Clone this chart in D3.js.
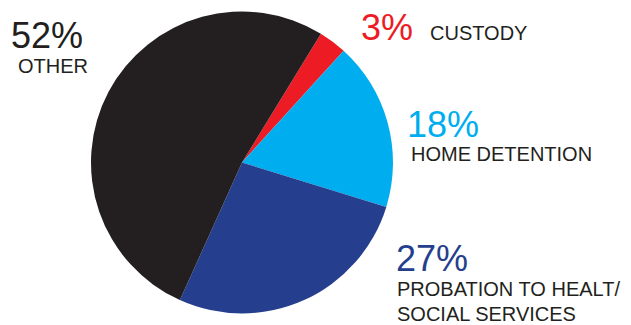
<!DOCTYPE html>
<html>
<head>
<meta charset="utf-8">
<script src="https://cdn.jsdelivr.net/npm/d3@7"></script>
<style>
  html, body { margin: 0; padding: 0; background: #fff; }
  svg { display: block; }
  text { font-family: "Liberation Sans", Arial, Helvetica, sans-serif; }
</style>
</head>
<body>
<svg id="chart" width="631" height="325"></svg>
<script>
// Sentence breakdown, percentages
const categories = ["CUSTODY", "HOME DETENTION", "PROBATION TO HEALT/\nSOCIAL SERVICES", "OTHER"];
const values = [3, 18, 27, 52];
const colors = ["#ED1C24", "#00AEEF", "#253F8E", "#231F20"];

const W = 631, H = 325;
const cx = 242, cy = 162.5, radius = 151;
const startDeg = 31.5;

const svg = d3.select("#chart");

const pie = d3.pie()
  .sort(null)
  .value(d => d)
  .startAngle(startDeg * Math.PI / 180)
  .endAngle((startDeg + 360) * Math.PI / 180);

const arc = d3.arc().innerRadius(0).outerRadius(radius);

const arcs = pie(values);

svg.append("g")
  .attr("transform", `translate(${cx},${cy})`)
  .selectAll("path")
  .data(arcs)
  .join("path")
  .attr("d", arc)
  .attr("fill", (d, i) => colors[i]);

// label layout: percent position, name position, percent colour
const labelLayout = [
  { x: 361, py: 40, ny: 40, nx: 430, pctColor: "#ED1C24" },
  { x: 407, py: 136.5, ny: 161, nx: 411, pctColor: "#00AEEF" },
  { x: 396, py: 270.5, ny: 295.5, nx: 397, pctColor: "#253F8E" },
  { x: 11, py: 48, ny: 73, nx: 18, pctColor: "#231F20" }
];

const labels = svg.append("g");
values.forEach((v, i) => {
  const L = labelLayout[i];
  labels.append("text")
    .attr("x", L.x)
    .attr("y", L.py)
    .attr("font-size", 36)
    .attr("fill", L.pctColor)
    .text(v + "%");
  const lines = categories[i].split("\n");
  lines.forEach((line, j) => {
    labels.append("text")
      .attr("x", L.nx)
      .attr("y", L.ny + j * 25)
      .attr("font-size", 20)
      .attr("fill", "#231F20")
      .text(line);
  });
});
</script>
</body>
</html>
